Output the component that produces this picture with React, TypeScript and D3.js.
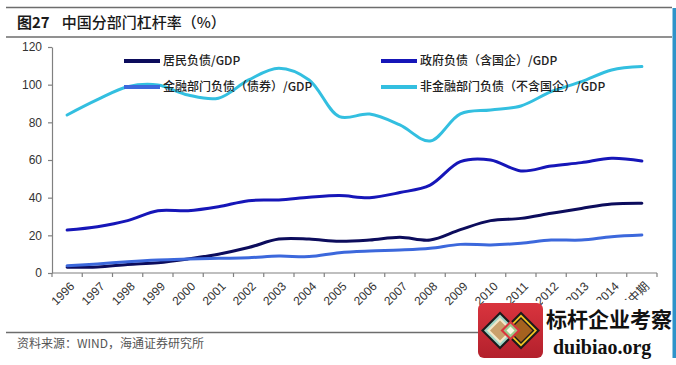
import React, { useRef, useEffect } from "react";
import * as d3 from "d3";

const years = [
  "1996", "1997", "1998", "1999", "2000", "2001", "2002", "2003", "2004", "2005",
  "2006", "2007", "2008", "2009", "2010", "2011", "2012", "2013", "2014", "2015中期",
];
// 居民负债/GDP
const household = [3, 3.2, 4.5, 5.5, 7.5, 10, 13.5, 18, 18, 16.8, 17.5, 19, 17.5, 23, 27.8, 29, 31.7, 34.3, 36.6, 37];
// 政府负债（含国企）/GDP
const government = [22.8, 24.6, 27.8, 33.1, 33.1, 35.2, 38.4, 38.8, 40.2, 41.1, 40, 42.7, 46.7, 59.1, 60, 54.2, 56.8, 58.6, 60.9, 59.5];
// 金融部门负债（债券）/GDP
const financial = [3.9, 4.8, 6, 6.9, 7.4, 7.8, 8.1, 9, 8.7, 10.8, 11.7, 12.2, 13.1, 15.2, 14.9, 15.8, 17.5, 17.5, 19.3, 20.2];
// 非金融部门负债（不含国企）/GDP
const nonFinancial = [83.9, 92, 98.9, 99.8, 94.5, 92.8, 102.5, 108.7, 102.5, 83, 84.4, 78.6, 70.1, 84.5, 86.6, 88.7, 96.3, 101.6, 107.8, 109.6];
const yTicks = [0, 20, 40, 60, 80, 100, 120];

const series = [
  { name: "居民负债/GDP", values: household, color: "#0c0c5c", col: 0, row: 0 },
  { name: "政府负债（含国企）/GDP", values: government, color: "#1616b8", col: 1, row: 0 },
  { name: "金融部门负债（债券）/GDP", values: financial, color: "#3c68dc", col: 0, row: 1 },
  { name: "非金融部门负债（不含国企）/GDP", values: nonFinancial, color: "#33bfe0", col: 1, row: 1 },
];

const W = 676;
const H = 365;
const cjk = "'Noto Sans CJK SC', sans-serif";
const latin = "'Liberation Sans', Arial, sans-serif";

export default function App() {
  const svgRef = useRef<SVGSVGElement>(null);

  useEffect(() => {
    const svg = d3.select(svgRef.current);
    svg.selectAll("*").remove();

    const left = 52, right = 657, top = 47, bottom = 273;

    const x = d3.scaleBand().domain(years).range([left, right]);
    const y = d3.scaleLinear().domain([0, 120]).range([bottom, top]);
    const cx = (d: string) => (x(d) as number) + x.bandwidth() / 2;

    // header / footer rules
    svg.append("line").attr("x1", 6).attr("x2", 672).attr("y1", 7.5).attr("y2", 7.5)
      .attr("stroke", "#6d6d6d").attr("stroke-width", 1.5);
    svg.append("line").attr("x1", 6).attr("x2", 672).attr("y1", 37).attr("y2", 37)
      .attr("stroke", "#6d6d6d").attr("stroke-width", 1.5);
    svg.append("line").attr("x1", 6).attr("x2", 672).attr("y1", 332.5).attr("y2", 332.5)
      .attr("stroke", "#6d6d6d").attr("stroke-width", 1.5);

    const title = svg.append("text").attr("x", 17).attr("y", 28)
      .attr("font-family", cjk).attr("font-size", 15).attr("fill", "#1a1a1a");
    title.append("tspan").attr("font-weight", "bold").text("图27");
    title.append("tspan").attr("dx", 12).attr("font-weight", 500).text("中国分部门杠杆率（%）");

    svg.append("text").attr("x", 17).attr("y", 348)
      .attr("font-family", cjk).attr("font-size", 12).attr("fill", "#555")
      .text("资料来源：WIND，海通证券研究所");

    // y axis
    const yAxis = d3.axisLeft(y).tickValues(yTicks).tickSize(4).tickSizeOuter(0).tickPadding(6);
    const gy = svg.append("g").attr("transform", `translate(${left},0)`).call(yAxis);
    gy.select(".domain").attr("stroke", "#808080").attr("stroke-width", 1.2);
    gy.selectAll(".tick line").attr("stroke", "#808080").attr("stroke-width", 1.2);
    gy.selectAll(".tick text").attr("font-family", latin).attr("font-size", 12).attr("fill", "#333");

    // x axis (ticks on category boundaries)
    svg.append("line").attr("x1", left).attr("x2", right).attr("y1", bottom).attr("y2", bottom)
      .attr("stroke", "#808080").attr("stroke-width", 1.2);
    const bounds = d3.range(years.length + 1).map((i) => left + i * x.step());
    svg.append("g").selectAll("line").data(bounds).join("line")
      .attr("x1", (d) => d).attr("x2", (d) => d)
      .attr("y1", bottom).attr("y2", bottom + 4)
      .attr("stroke", "#808080").attr("stroke-width", 1.2);
    svg.append("g").selectAll("text").data(years).join("text")
      .attr("transform", (d) => `translate(${cx(d) + 3},${bottom + 9}) rotate(-45)`)
      .attr("text-anchor", "end").attr("dy", "0.6em")
      .attr("font-family", (d) => (d.length > 4 ? cjk : latin))
      .attr("font-size", 12).attr("fill", "#333")
      .text((d) => d);

    // lines
    const line = d3.line<number>()
      .x((d, i) => cx(years[i]))
      .y((d) => y(d))
      .curve(d3.curveCatmullRom.alpha(0.5));

    svg.append("g").selectAll("path").data(series).join("path")
      .attr("d", (s) => line(s.values))
      .attr("fill", "none")
      .attr("stroke", (s) => s.color)
      .attr("stroke-width", 3)
      .attr("stroke-linecap", "round");

    // legend
    const lg = svg.append("g").selectAll("g").data(series).join("g")
      .attr("transform", (s) => `translate(${s.col ? 381 : 124},${s.row ? 87 : 61})`);
    lg.append("line").attr("x1", 0).attr("x2", 36).attr("y1", 0).attr("y2", 0)
      .attr("stroke", (s) => s.color).attr("stroke-width", 4);
    lg.append("text").attr("x", 39).attr("y", 0).attr("dy", "0.35em")
      .attr("font-family", cjk).attr("font-size", 12).attr("font-weight", 500).attr("fill", "#222")
      .text((s) => s.name);

    // watermark
    const wm = svg.append("g");
    wm.append("rect").attr("x", 543).attr("y", 300).attr("width", 129).attr("height", 60).attr("fill", "#fff");
    const grad = svg.append("defs").append("linearGradient").attr("id", "wmred")
      .attr("x1", 0).attr("y1", 0).attr("x2", 0).attr("y2", 1);
    grad.append("stop").attr("offset", "0%").attr("stop-color", "#d9343e");
    grad.append("stop").attr("offset", "100%").attr("stop-color", "#b3202c");
    wm.append("rect").attr("x", 478).attr("y", 303).attr("width", 65).attr("height", 55).attr("rx", 6)
      .attr("fill", "url(#wmred)");
    const diamond = (cxp: number, cyp: number, r: number) =>
      `M${cxp},${cyp - r}L${cxp + r},${cyp}L${cxp},${cyp + r}L${cxp - r},${cyp}Z`;
    const layersL = [["#1b1b1b", 19], ["#9fd6c6", 16], ["#f3e6c8", 13], ["#c9a06c", 10]];
    const layersR = [["#1b1b1b", 19], ["#f2c521", 16], ["#1b1b1b", 13.5], ["#a5621f", 11.5]];
    layersL.forEach(([c, r]) => wm.append("path").attr("d", diamond(500, 330.5, r as number)).attr("fill", c as string));
    layersR.forEach(([c, r]) => wm.append("path").attr("d", diamond(521, 330.5, r as number)).attr("fill", c as string));
    wm.append("path").attr("d", diamond(510.5, 330.5, 10)).attr("fill", "#d9343e");
    wm.append("path").attr("d", diamond(510.5, 330.5, 7)).attr("fill", "#9cc98a");
    wm.append("path").attr("d", diamond(510.5, 330.5, 4)).attr("fill", "#fbf6e6");
    wm.append("text").attr("x", 546).attr("y", 327).attr("font-family", cjk).attr("font-weight", "bold")
      .attr("font-size", 21).attr("fill", "#111").text("标杆企业考察");
    wm.append("text").attr("x", 553).attr("y", 354).attr("font-family", "'Liberation Serif', serif")
      .attr("font-weight", "bold").attr("font-size", 20).attr("fill", "#111").text("duibiao.org");

    // right edge bar
    svg.append("rect").attr("x", 672.5).attr("y", 8).attr("width", 3.5).attr("height", 350).attr("fill", "#2f93c9");
  }, []);

  return (
    <svg
      ref={svgRef}
      width={W}
      height={H}
      style={{ position: "absolute", left: 0, top: 0, background: "#fff" }}
    />
  );
}
